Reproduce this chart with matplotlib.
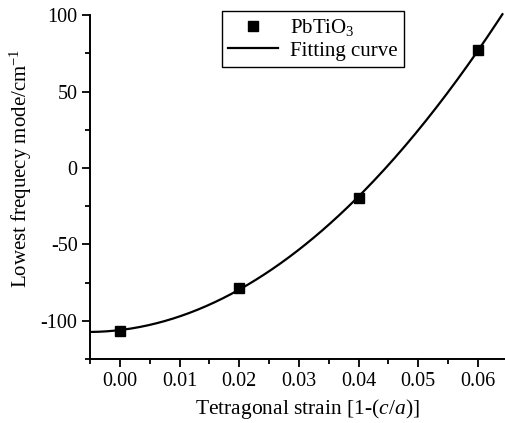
"""Lowest frequency mode of PbTiO3 vs tetragonal strain, with quadratic fit."""

import matplotlib.pyplot as plt
import numpy as np
from matplotlib.ticker import FormatStrFormatter, MultipleLocator

plt.switch_backend("Agg")

plt.rcParams["font.family"] = ["Liberation Serif", "DejaVu Serif"]
plt.rcParams["mathtext.fontset"] = "custom"
plt.rcParams["mathtext.rm"] = "Liberation Serif"
plt.rcParams["mathtext.it"] = "Liberation Serif:italic"
plt.rcParams["axes.unicode_minus"] = False

# data
strain = [0.00, 0.02, 0.04, 0.06]
freq = [-106.4, -78.3, -19.8, 77.2]

x_ticks = [0.00, 0.01, 0.02, 0.03, 0.04, 0.05, 0.06]
y_ticks = [-100, -50, 0, 50, 100]

# quadratic fitting curve through the measured points
coef = np.polyfit(strain, freq, 2)
x_fit = np.linspace(-0.005, 0.0641, 200)
y_fit = np.polyval(coef, x_fit)

fig = plt.figure(figsize=(5.06, 4.23), dpi=100)
ax = fig.add_axes([0.178, 0.151, 0.822, 0.824])

ax.plot(x_fit, y_fit, color="black", lw=1.6, label="Fitting curve")
ax.plot(strain, freq, ls="none", marker="s", ms=7, color="black",
        label="PbTiO$_3$")

ax.set_xlim(-0.005, 0.0647)
ax.set_ylim(-125, 103)

for side in ("top", "right"):
    ax.spines[side].set_visible(False)
ax.spines["left"].set_bounds(-125, 100)
ax.spines["left"].set_linewidth(1.4)
ax.spines["bottom"].set_linewidth(1.4)

ax.set_xticks(x_ticks)
ax.set_yticks(y_ticks)
ax.xaxis.set_major_formatter(FormatStrFormatter("%.2f"))
ax.xaxis.set_minor_locator(MultipleLocator(0.005))
ax.yaxis.set_minor_locator(MultipleLocator(25))
ax.tick_params(which="major", direction="out", length=6, width=1.3,
               labelsize=14.5, pad=3)
ax.tick_params(which="minor", direction="out", length=3.5, width=1.3)

ax.set_xlabel(r"Tetragonal strain [1-($\mathit{c}$/$\mathit{a}$)]",
              fontsize=15.5, va="center")
ax.xaxis.set_label_coords(0.522, -0.143)
ax.set_ylabel("Lowest frequecy mode/cm$^{-1}$", fontsize=15, va="center")
ax.yaxis.set_label_coords(-0.166, 0.548)

handles, labels = ax.get_legend_handles_labels()
leg = ax.legend(handles[::-1], labels[::-1], loc="upper left",
                bbox_to_anchor=(0.317, 1.0), borderaxespad=0,
                fancybox=False, framealpha=1, fontsize=15,
                handlelength=2.4, handletextpad=0.55, borderpad=0.3,
                labelspacing=0.15)
leg.get_frame().set_edgecolor("black")
leg.get_frame().set_linewidth(1.0)

fig.savefig("out.png", dpi=100)
plt.close(fig)
